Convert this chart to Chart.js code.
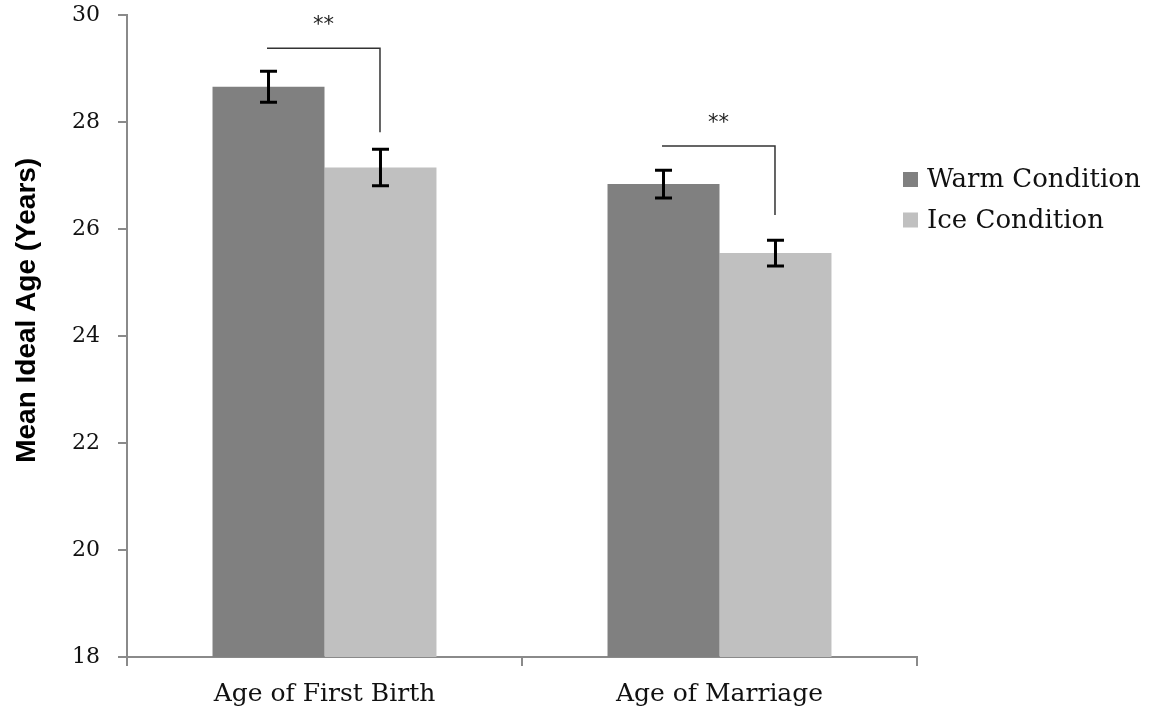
<!DOCTYPE html>
<html>
<head>
<meta charset="utf-8">
<script src="https://cdn.jsdelivr.net/npm/chart.js@4.4.1/dist/chart.umd.min.js"></script>
<style>
  html, body { margin: 0; padding: 0; background: #ffffff; }
  #wrap { width: 1156px; height: 717px; position: relative; }
</style>
</head>
<body>
<div id="wrap"><canvas id="chart" width="1156" height="717"></canvas></div>
<script>
// Mean ideal age by condition, with standard errors
const categories = ['Age of First Birth', 'Age of Marriage'];
const seriesNames = ['Warm Condition', 'Ice Condition'];
const warmMeans = [28.66, 26.84];
const iceMeans = [27.15, 25.55];
const warmErrors = [0.29, 0.26];
const iceErrors = [0.34, 0.24];
const yTicks = [18, 20, 22, 24, 26, 28, 30];
const yTitle = 'Mean Ideal Age (Years)';

// Significance brackets: horizontal level and where the right leg stops
const bracketLevels = [29.38, 27.55];
const bracketDrops = [27.81, 26.26];
const bracketLabels = ['**', '**'];

const WARM = '#808080';
const ICE = '#c0c0c0';
const AXIS = '#8a8a8a';
const SERIF = '"DejaVu Serif", "Liberation Serif", serif';

const errorSets = [warmErrors, iceErrors];

const errorBarPlugin = {
  id: 'errorBars',
  afterDatasetsDraw(chart) {
    const ctx = chart.ctx;
    const y = chart.scales.y;
    ctx.save();
    ctx.strokeStyle = '#000';
    ctx.lineWidth = 3;
    chart.data.datasets.forEach((ds, i) => {
      const meta = chart.getDatasetMeta(i);
      meta.data.forEach((bar, j) => {
        const v = ds.data[j], e = errorSets[i][j];
        const yt = y.getPixelForValue(v + e);
        const yb = y.getPixelForValue(v - e);
        const half = 8.5;
        ctx.beginPath();
        ctx.moveTo(bar.x, yt); ctx.lineTo(bar.x, yb);
        ctx.moveTo(bar.x - half, yt); ctx.lineTo(bar.x + half, yt);
        ctx.moveTo(bar.x - half, yb); ctx.lineTo(bar.x + half, yb);
        ctx.stroke();
      });
    });
    ctx.restore();
  }
};

const bracketPlugin = {
  id: 'brackets',
  afterDatasetsDraw(chart) {
    const ctx = chart.ctx;
    const y = chart.scales.y;
    const m0 = chart.getDatasetMeta(0), m1 = chart.getDatasetMeta(1);
    ctx.save();
    ctx.strokeStyle = '#333';
    ctx.lineWidth = 1.5;
    ctx.fillStyle = '#222';
    ctx.font = '21px "DejaVu Sans", sans-serif';
    ctx.textAlign = 'center';
    ctx.textBaseline = 'middle';
    categories.forEach((c, j) => {
      const x1 = m0.data[j].x - 1.5, x2 = m1.data[j].x - 0.5;
      const yl = y.getPixelForValue(bracketLevels[j]);
      const yd = y.getPixelForValue(bracketDrops[j]);
      ctx.beginPath();
      ctx.moveTo(x1, yl); ctx.lineTo(x2, yl); ctx.lineTo(x2, yd);
      ctx.stroke();
      ctx.fillText(bracketLabels[j], (x1 + x2) / 2, yl - 23);
    });
    ctx.restore();
  }
};

const sideLegendPlugin = {
  id: 'sideLegend',
  afterDraw(chart) {
    const ctx = chart.ctx;
    const area = chart.chartArea;
    const x0 = area.right - 14;
    const y0 = area.top + 164.5;
    ctx.save();
    ctx.font = '26px ' + SERIF;
    ctx.textBaseline = 'middle';
    ctx.textAlign = 'left';
    chart.data.datasets.forEach((ds, i) => {
      const cy = y0 + i * 40.5;
      ctx.fillStyle = ds.backgroundColor;
      ctx.fillRect(x0, cy - 7.5, 15, 15);
      ctx.fillStyle = '#111';
      ctx.fillText(ds.label, x0 + 24, cy + 1);
    });
    ctx.restore();
  }
};

const yTitlePlugin = {
  id: 'yTitle',
  afterDraw(chart) {
    const ctx = chart.ctx;
    const area = chart.chartArea;
    const cy = area.top + (area.bottom - area.top) * 0.46;
    ctx.save();
    ctx.translate(27, cy);
    ctx.rotate(-Math.PI / 2);
    ctx.font = 'bold 28px "Liberation Sans", Arial, sans-serif';
    ctx.fillStyle = '#000';
    ctx.textAlign = 'center';
    ctx.textBaseline = 'middle';
    ctx.fillText(yTitle, 0, 0);
    ctx.restore();
  }
};

new Chart(document.getElementById('chart'), {
  type: 'bar',
  data: {
    labels: categories,
    datasets: [
      { label: seriesNames[0], data: warmMeans, backgroundColor: WARM, borderWidth: 0,
        barPercentage: 1.0, categoryPercentage: 0.567 },
      { label: seriesNames[1], data: iceMeans, backgroundColor: ICE, borderWidth: 0,
        barPercentage: 1.0, categoryPercentage: 0.567 }
    ]
  },
  options: {
    responsive: false,
    animation: false,
    devicePixelRatio: 1,
    layout: { padding: { top: 15, right: 239, left: 0, bottom: 0 } },
    plugins: {
      legend: { display: false },
      tooltip: { enabled: false }
    },
    scales: {
      x: {
        afterFit(scale) { scale.height = 60; },
        grid: { offset: true, drawOnChartArea: false, tickLength: 9, color: AXIS, lineWidth: 2 },
        border: { color: AXIS, width: 2 },
        ticks: { font: { family: SERIF, size: 25 }, color: '#111', padding: 13 }
      },
      y: {
        min: 18,
        max: 30,
        afterFit(scale) {
          scale.width = 127;
          scale.paddingTop = 0;
          scale.paddingBottom = 0;
        },
        afterBuildTicks(scale) { scale.ticks = yTicks.map(v => ({ value: v })); },
        grid: { drawOnChartArea: false, tickLength: 9, color: AXIS, lineWidth: 2 },
        border: { color: AXIS, width: 2 },
        ticks: { font: { family: SERIF, size: 22 }, color: '#111', padding: 18 }
      }
    }
  },
  plugins: [errorBarPlugin, bracketPlugin, sideLegendPlugin, yTitlePlugin]
});
</script>
</body>
</html>
